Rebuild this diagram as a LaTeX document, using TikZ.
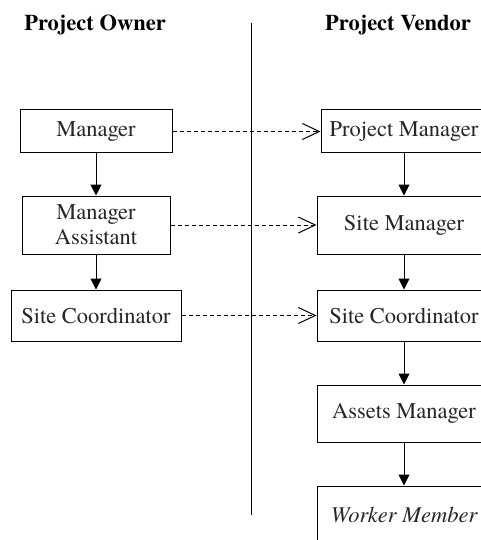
\documentclass[tikz,border=0pt]{standalone}
\usepackage{fontspec}
\setmainfont{TeX Gyre Termes}
\usetikzlibrary{arrows.meta}
\begin{document}
\begin{tikzpicture}[x=1pt,y=-1pt,
  box/.style={draw, line width=1pt, inner sep=0pt, align=center,
    font=\fontsize{22.5}{25}\selectfont, text=black!85},
  head/.style={font=\fontsize{22.5}{25}\selectfont\bfseries, anchor=base},
  solidarrow/.style={line width=1pt, -{Triangle[width=11pt,length=11pt]}},
  dasharrow/.style={line width=1pt, dash pattern=on 4pt off 3pt,
    -{Straight Barb[width=16pt,length=17pt,line width=1pt]}}]
\useasboundingbox (0,0) rectangle (481,540);
\clip (0,0) rectangle (481,540);
\node[head] (ho) at (95,31) {Project Owner};
\node[head] (hv) at (398,31) {Project Vendor};
\coordinate (vtop) at (251,23);
\coordinate (vbot) at (251,515);
\draw[line width=1pt] (vtop) -- (vbot);
% left column
\node[box, minimum width=152pt, minimum height=43pt] (mgr) at (96,131.5) {Manager};
\node[box, minimum width=148pt, minimum height=58pt] (ma) at (96,225) {Manager\\Assistant};
\node[box, minimum width=170pt, minimum height=51pt] (scl) at (96,315.5) {Site Coordinator};
% right column
\node[box, minimum width=166pt, minimum height=43pt] (pm) at (404,131.5) {Project Manager};
\node[box, minimum width=174pt, minimum height=58pt] (sm) at (404,225) {Site Manager};
\node[box, minimum width=174pt, minimum height=51pt] (scr) at (404,315.5) {Site Coordinator};
\node[box, minimum width=174pt, minimum height=57pt] (am) at (404,413.5) {Assets Manager};
\node[box, minimum width=174pt, minimum height=58pt] (wm) at (404,515) {\itshape Worker Member};
% solid arrows
\draw[solidarrow] (mgr) -- (ma);
\draw[solidarrow] (ma) -- (scl);
\draw[solidarrow] (pm) -- (sm);
\draw[solidarrow] (sm) -- (scr);
\draw[solidarrow] (scr) -- (am);
\draw[solidarrow] (am) -- (wm);
% dashed arrows
\draw[dasharrow] (mgr.east) -- (pm.west);
\draw[dasharrow] (ma.east) -- (sm.west);
\draw[dasharrow] (scl.east) -- (scr.west);
\end{tikzpicture}
\end{document}
